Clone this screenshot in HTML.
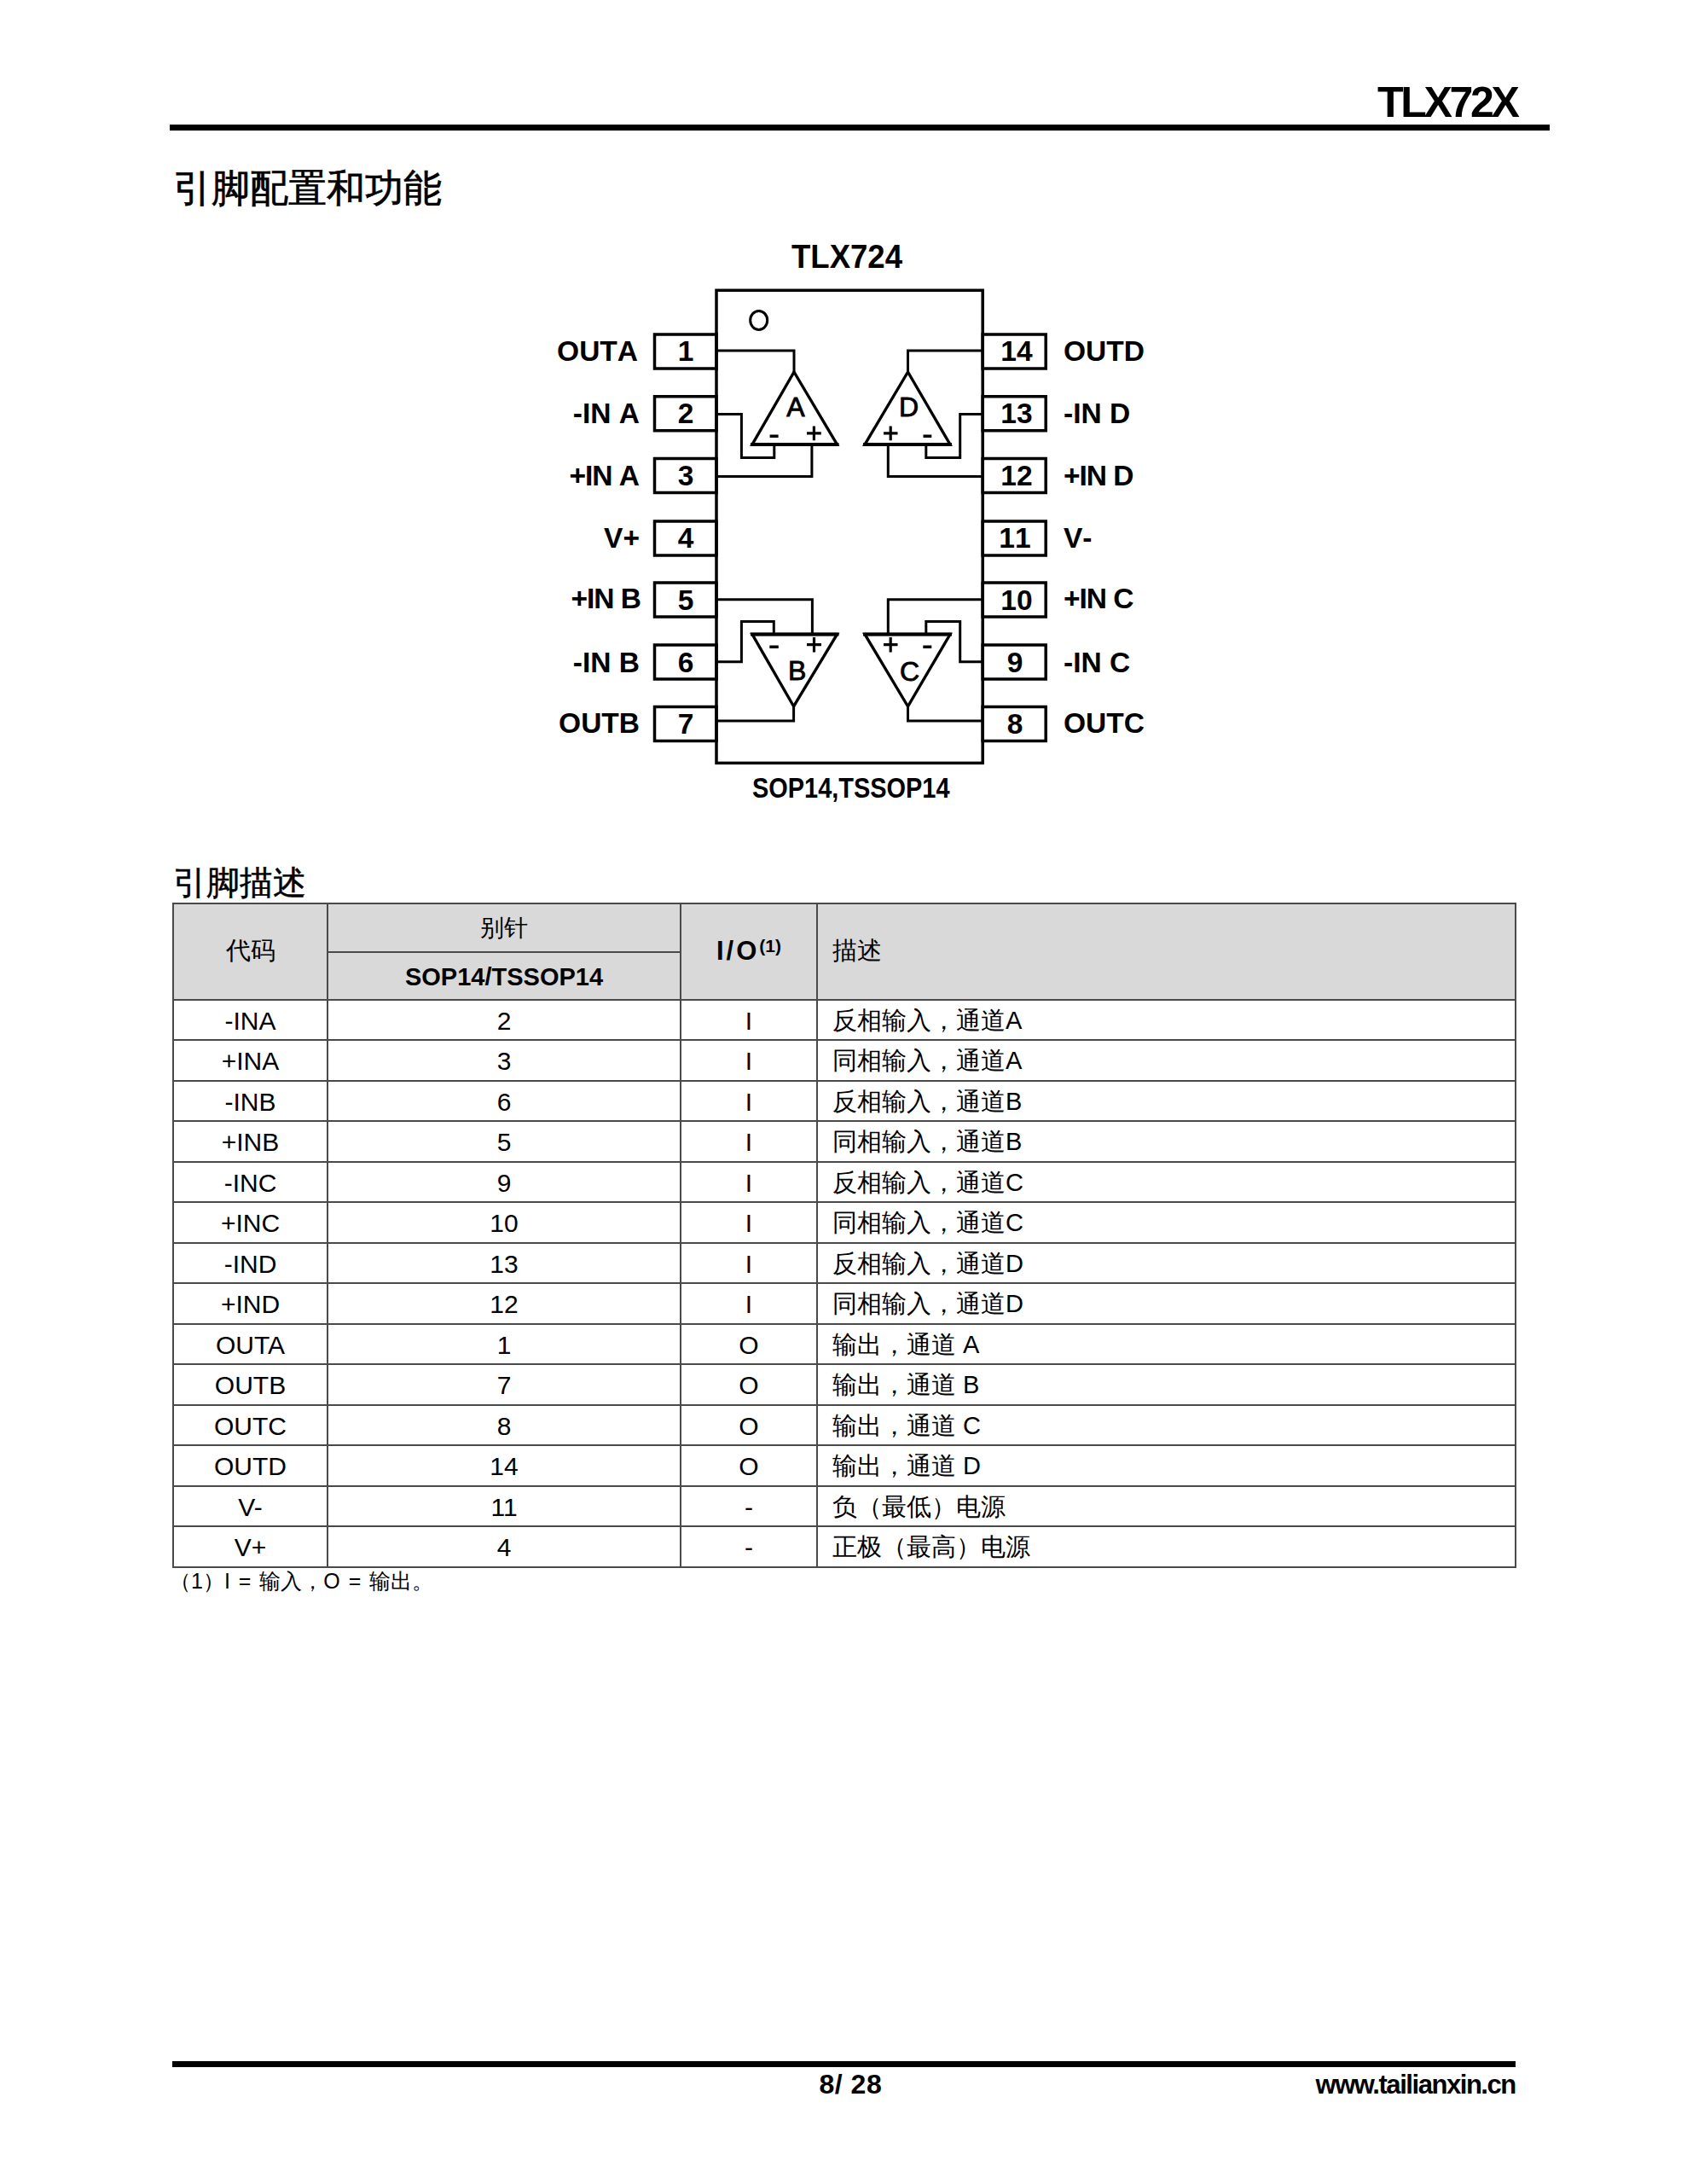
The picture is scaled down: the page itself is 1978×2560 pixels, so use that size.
<!DOCTYPE html>
<html>
<head>
<meta charset="utf-8">
<style>
html,body{margin:0;padding:0;background:#fff;}
body{width:1978px;height:2560px;position:relative;overflow:hidden;font-family:"Liberation Sans",sans-serif;color:#000;}
.a{position:absolute;white-space:nowrap;line-height:1;}
.rule{position:absolute;background:#000;}
#hdr{left:1615px;top:94.5px;font-size:50px;font-weight:bold;letter-spacing:-3.3px;}
#t1{left:202.5px;top:198px;font-size:45px;-webkit-text-stroke:0.7px #000;}
#t2{left:202.5px;top:1014.5px;font-size:39px;-webkit-text-stroke:0.5px #000;}
svg{position:absolute;left:0;top:0;}
table{position:absolute;left:202px;top:1058px;border-collapse:collapse;}
td{border:2px solid #4a4a4a;padding:3px 0 0 0;font-size:30px;text-align:center;height:42.52px;}
.hd td{background:#d9d9d9;}
td.l{text-align:left;padding-left:17px;font-size:29px;}
.b{font-weight:bold;}
sup{font-size:21px;line-height:0;vertical-align:9px;}
#fn{left:199px;top:1841px;font-size:25px;word-spacing:3px;}
#pg{left:960.5px;top:2426.5px;font-size:32px;font-weight:bold;letter-spacing:0.5px;}
#www{left:1542.5px;top:2428px;font-size:31px;font-weight:bold;letter-spacing:-1.45px;}
</style>
</head>
<body>
<div class="a" id="hdr">TLX72X</div>
<div class="rule" style="left:199px;top:146px;width:1618px;height:7px;"></div>
<div class="a" id="t1">引脚配置和功能</div>

<svg width="1978" height="1000" viewBox="0 0 1978 1000">
<g fill="none" stroke="#000" stroke-width="3.5">
<rect x="840" y="340.3" width="312.2" height="554.1"/>
</g>
<g fill="none" stroke="#000" stroke-width="3.5">
<rect x="767.5" y="392" width="72.5" height="40"/>
<rect x="767.5" y="464.75" width="72.5" height="40"/>
<rect x="767.5" y="537.5" width="72.5" height="40"/>
<rect x="767.5" y="611" width="72.5" height="40"/>
<rect x="767.5" y="683" width="72.5" height="40"/>
<rect x="767.5" y="756" width="72.5" height="40"/>
<rect x="767.5" y="828.5" width="72.5" height="40"/>
<rect x="1152.2" y="392" width="74" height="40"/>
<rect x="1152.2" y="464.75" width="74" height="40"/>
<rect x="1152.2" y="537.5" width="74" height="40"/>
<rect x="1152.2" y="611" width="74" height="40"/>
<rect x="1152.2" y="683" width="74" height="40"/>
<rect x="1152.2" y="756" width="74" height="40"/>
<rect x="1152.2" y="828.5" width="74" height="40"/>
</g>
<ellipse cx="889.7" cy="375.4" rx="10" ry="11" fill="none" stroke="#000" stroke-width="3"/>
<g fill="none" stroke="#000" stroke-width="3.4" stroke-linejoin="miter">
<path d="M931,436 L882,521 L981.5,521 Z"/>
<path d="M1064.5,436 L1014,521 L1114,521 Z"/>
<path d="M882,743.5 L981.5,743.5 L930.6,828 Z"/>
<path d="M1014,743.5 L1114,743.5 L1064.5,828 Z"/>
<path d="M880,521 H983.5 M1012,521 H1116 M880,743.5 H983.5 M1012,743.5 H1116" stroke-width="4.2"/>
</g>
<g fill="none" stroke="#000" stroke-width="3">
<path d="M840,411 H931 V436"/>
<path d="M840,485.4 H869.4 V536.6 H907.8 V521"/>
<path d="M840,558.4 H951.9 V521"/>
<path d="M1152,411 H1064.5 V436"/>
<path d="M1152,485.4 H1125.7 V536.6 H1085.8 V521"/>
<path d="M1152,558.4 H1041.3 V521"/>
<path d="M840,702.8 H952.4 V743.5"/>
<path d="M840,775.8 H869.4 V728.4 H907.3 V743.5"/>
<path d="M840,845 H930.6 V828"/>
<path d="M1152,702.8 H1041.3 V743.5"/>
<path d="M1152,775.8 H1125.7 V728.4 H1085.8 V743.5"/>
<path d="M1152,845 H1064.5 V828"/>
</g>
<g stroke="#000" stroke-width="3.2" fill="none">
<path d="M946,507.9 H962.8 M954.4,499.6 V516.2"/>
<path d="M1036,507.9 H1052.5 M1044.2,499.6 V516.2"/>
<path d="M946,755.6 H963 M954.5,746.9 V764.4"/>
<path d="M1036,755.7 H1052.5 M1044.2,747 V764.4"/>
</g>
<g fill="#000">
<rect x="902.6" y="509.5" width="10" height="3.5"/>
<rect x="1082.5" y="509.5" width="9.8" height="3.5"/>
<rect x="902.3" y="756.5" width="10.5" height="3.5"/>
<rect x="1082.3" y="756.5" width="10" height="3.5"/>
</g>
<g font-family="Liberation Sans, sans-serif" font-weight="bold" fill="#000" style="font-kerning:none">
<text x="928" y="313.8" font-size="38" textLength="130" lengthAdjust="spacingAndGlyphs">TLX724</text>
<g font-size="33.5" text-anchor="end">
<text x="748" y="422.6">OUTA</text>
<text x="750" y="496.3">-IN A</text>
<text x="749" y="569" letter-spacing="-1">+IN A</text>
<text x="750" y="642">V+</text>
<text x="751" y="713" letter-spacing="-1">+IN B</text>
<text x="750" y="787.5">-IN B</text>
<text x="750" y="858.5">OUTB</text>
</g>
<g font-size="33.5" text-anchor="start">
<text x="1247" y="423">OUTD</text>
<text x="1247" y="496.3">-IN D</text>
<text x="1247" y="569" letter-spacing="-1">+IN D</text>
<text x="1247" y="642">V-</text>
<text x="1247" y="713" letter-spacing="-1">+IN C</text>
<text x="1247" y="787.5">-IN C</text>
<text x="1247" y="858.5">OUTC</text>
</g>
<g font-size="33.5" text-anchor="middle">
<text x="804" y="423">1</text>
<text x="804" y="496.3">2</text>
<text x="804" y="569">3</text>
<text x="804" y="642">4</text>
<text x="804" y="714.5">5</text>
<text x="804" y="787.5">6</text>
<text x="804" y="860">7</text>
<text x="1192" y="423">14</text>
<text x="1192" y="496.3">13</text>
<text x="1192" y="569">12</text>
<text x="1190" y="642">11</text>
<text x="1192" y="714.5">10</text>
<text x="1190" y="787.5">9</text>
<text x="1190" y="860">8</text>
</g>
<g font-size="32" text-anchor="middle" font-weight="normal" stroke="#000" stroke-width="0.9">
<text x="933" y="488.2">A</text>
<text x="1065.6" y="488.2">D</text>
<text x="934.6" y="797.1">B</text>
<text x="1066.6" y="797.6">C</text>
</g>
<text x="882" y="934.7" font-size="33" textLength="231.5" lengthAdjust="spacingAndGlyphs">SOP14,TSSOP14</text>
</g>
</svg>

<div class="a" id="t2">引脚描述</div>

<table>
<colgroup><col style="width:181px"><col style="width:414px"><col style="width:160px"><col style="width:819px"></colgroup>
<tr class="hd"><td rowspan="2" style="padding:0;font-size:29px">代码</td><td style="height:55px;padding:0;font-size:28px">别针</td><td rowspan="2" class="b" style="padding:0;font-size:31px"><span style="letter-spacing:3px">I/O</span><sup>(1)</sup></td><td rowspan="2" class="l" style="padding:0 0 0 17px;font-size:29px">描述</td></tr>
<tr class="hd"><td class="b" style="height:50.5px;padding:3px 0 0 0;font-size:29px">SOP14/TSSOP14</td></tr>
<tr><td>-INA</td><td>2</td><td>I</td><td class="l">反相输入，通道A</td></tr>
<tr><td>+INA</td><td>3</td><td>I</td><td class="l">同相输入，通道A</td></tr>
<tr><td>-INB</td><td>6</td><td>I</td><td class="l">反相输入，通道B</td></tr>
<tr><td>+INB</td><td>5</td><td>I</td><td class="l">同相输入，通道B</td></tr>
<tr><td>-INC</td><td>9</td><td>I</td><td class="l">反相输入，通道C</td></tr>
<tr><td>+INC</td><td>10</td><td>I</td><td class="l">同相输入，通道C</td></tr>
<tr><td>-IND</td><td>13</td><td>I</td><td class="l">反相输入，通道D</td></tr>
<tr><td>+IND</td><td>12</td><td>I</td><td class="l">同相输入，通道D</td></tr>
<tr><td>OUTA</td><td>1</td><td>O</td><td class="l">输出，通道 A</td></tr>
<tr><td>OUTB</td><td>7</td><td>O</td><td class="l">输出，通道 B</td></tr>
<tr><td>OUTC</td><td>8</td><td>O</td><td class="l">输出，通道 C</td></tr>
<tr><td>OUTD</td><td>14</td><td>O</td><td class="l">输出，通道 D</td></tr>
<tr><td>V-</td><td>11</td><td>-</td><td class="l">负（最低）电源</td></tr>
<tr><td>V+</td><td>4</td><td>-</td><td class="l">正极（最高）电源</td></tr>
</table>

<div class="a" id="fn">（1）I = 输入，O = 输出。</div>

<div class="rule" style="left:202px;top:2416px;width:1575px;height:7px;"></div>
<div class="a" id="pg">8/ 28</div>
<div class="a" id="www">www.tailianxin.cn</div>
</body>
</html>
